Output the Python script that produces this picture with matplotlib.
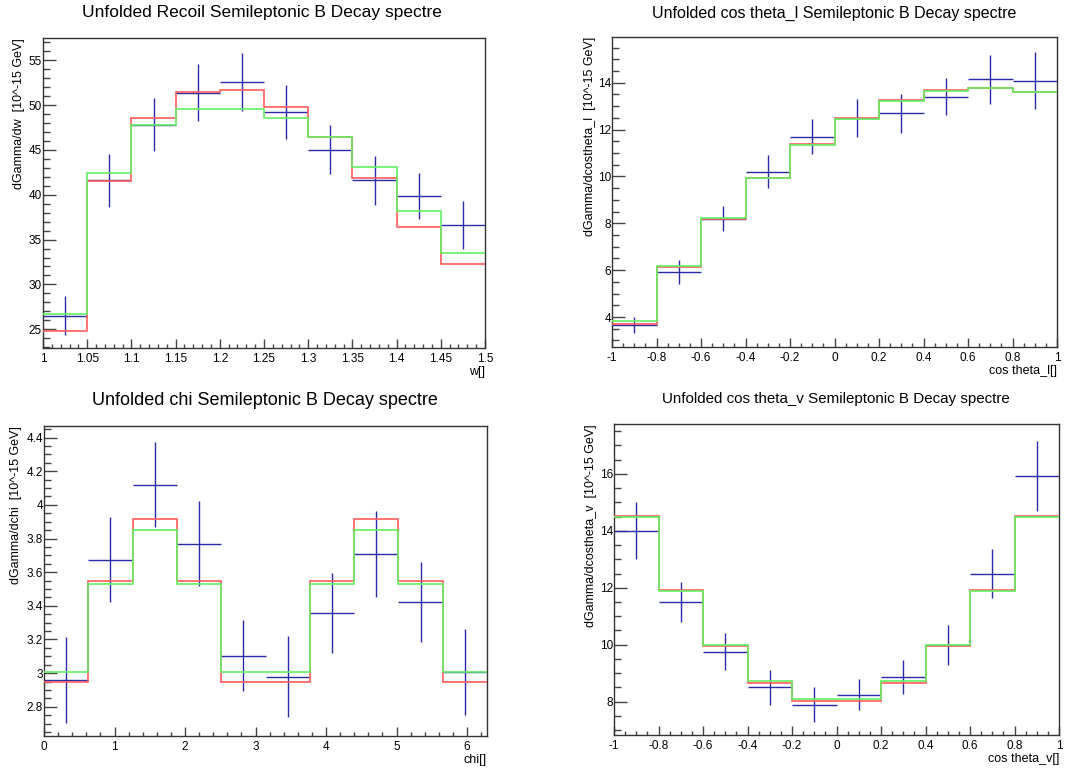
import numpy as np
import matplotlib
matplotlib.use('Agg')
import matplotlib.pyplot as plt
from matplotlib.ticker import MultipleLocator, FuncFormatter

plt.rcParams['font.family'] = ['Liberation Sans', 'DejaVu Sans']

W, H = 1078, 771

# --- recoil w ---
w_edges = np.linspace(1.0, 1.5, 11)
w_data = [26.5, 41.6, 47.8, 51.4, 52.6, 49.2, 45.05, 41.6, 39.85, 36.65]
w_err = [2.2, 2.95, 2.95, 3.2, 3.2, 3.0, 2.75, 2.75, 2.6, 2.7]
w_red = [24.8, 41.5, 48.6, 51.5, 51.65, 49.8, 46.45, 41.9, 36.45, 32.3]
w_green = [26.7, 42.4, 47.75, 49.55, 49.6, 48.55, 46.4, 43.05, 38.15, 33.45]

# --- cos theta_l ---
tl_edges = np.linspace(-1.0, 1.0, 11)
tl_data = [3.66, 5.92, 8.2, 10.2, 11.69, 12.5, 12.69, 13.4, 14.14, 14.09]
tl_err = [0.33, 0.5, 0.53, 0.7, 0.75, 0.8, 0.82, 0.78, 1.05, 1.23]
tl_red = [3.69, 6.12, 8.2, 9.93, 11.39, 12.49, 13.25, 13.69, 13.79, 13.59]
tl_green = [3.83, 6.18, 8.24, 9.94, 11.36, 12.43, 13.2, 13.64, 13.79, 13.59]

# --- chi ---
chi_edges = np.linspace(0.0, 2 * np.pi, 11)
chi_data = [2.96, 3.675, 4.12, 3.77, 3.103, 2.978, 3.358, 3.707, 3.424, 3.008]
chi_err = [0.255, 0.253, 0.253, 0.255, 0.21, 0.24, 0.24, 0.255, 0.238, 0.255]
chi_red = [2.945, 3.545, 3.919, 3.545, 2.945, 2.945, 3.545, 3.919, 3.545, 2.945]
chi_green = [3.006, 3.529, 3.851, 3.529, 3.006, 3.006, 3.529, 3.851, 3.529, 3.006]

# --- cos theta_v ---
tv_edges = np.linspace(-1.0, 1.0, 11)
tv_data = [14.0, 11.49, 9.76, 8.5, 7.9, 8.25, 8.87, 9.99, 12.5, 15.93]
tv_err = [1.0, 0.7, 0.65, 0.6, 0.6, 0.55, 0.6, 0.7, 0.85, 1.24]
tv_red = [14.52, 11.92, 9.97, 8.67, 8.02, 8.02, 8.67, 9.97, 11.92, 14.52]
tv_green = [14.47, 11.9, 9.99, 8.73, 8.09, 8.09, 8.73, 9.99, 11.9, 14.47]

panels = [
    dict(edges=w_edges, data=w_data, err=w_err, red=w_red, green=w_green,
         box=(43, 38, 485, 348), ylim=(22.9, 57.5), xmaj=0.05, xmin=0.01, ymaj=5, ymin=1,
         title="Unfolded Recoil Semileptonic B Decay spectre", tsize=12.5, tpos=(262, 13),
         xlabel="w[]", ylabel="dGamma/dw  [10^-15 GeV]", ylx=19),
    dict(edges=tl_edges, data=tl_data, err=tl_err, red=tl_red, green=tl_green,
         box=(612, 37, 1057, 347), ylim=(2.72, 15.95), xmaj=0.2, xmin=0.05, ymaj=2, ymin=0.5,
         title="Unfolded cos theta_l Semileptonic B Decay spectre", tsize=11.5, tpos=(834, 13),
         xlabel="cos theta_l[]", ylabel="dGamma/dcostheta_l  [10^-15 GeV]", ylx=590),
    dict(edges=chi_edges, data=chi_data, err=chi_err, red=chi_red, green=chi_green,
         box=(44, 426, 487, 736), ylim=(2.626, 4.469), xmaj=1, xmin=0.2, ymaj=0.2, ymin=0.05,
         title="Unfolded chi Semileptonic B Decay spectre", tsize=13, tpos=(265, 400),
         xlabel="chi[]", ylabel="dGamma/dchi  [10^-15 GeV]", ylx=16),
    dict(edges=tv_edges, data=tv_data, err=tv_err, red=tv_red, green=tv_green,
         box=(614, 424, 1059, 735), ylim=(6.83, 17.75), xmaj=0.2, xmin=0.05, ymaj=2, ymin=0.5,
         title="Unfolded cos theta_v Semileptonic B Decay spectre", tsize=10.9, tpos=(836, 399),
         xlabel="cos theta_v[]", ylabel="dGamma/dcostheta_v  [10^-15 GeV]", ylx=591),
]

fmt = FuncFormatter(lambda v, pos: '%g' % round(v, 6))

fig = plt.figure(figsize=(W / 100, H / 100), dpi=100)

for p in panels:
    x0, y0, x1, y1 = p['box']
    ax = fig.add_axes([x0 / W, 1 - y1 / H, (x1 - x0) / W, (y1 - y0) / H])
    edges = p['edges']
    centers = 0.5 * (edges[:-1] + edges[1:])
    half = 0.5 * (edges[1] - edges[0])

    ax.errorbar(centers, p['data'], xerr=half, yerr=p['err'], fmt='none',
                ecolor='#2a2aa8', elinewidth=1.0, capsize=0, zorder=2)
    ax.stairs(p['red'], edges, baseline=None, color='#ff5c5c', lw=1.2, zorder=3)
    ax.stairs(p['green'], edges, baseline=None, color='#62f062', lw=1.2, zorder=4)

    ax.set_xlim(edges[0], edges[-1])
    ax.set_ylim(*p['ylim'])
    ax.xaxis.set_major_locator(MultipleLocator(p['xmaj']))
    ax.xaxis.set_minor_locator(MultipleLocator(p['xmin']))
    ax.yaxis.set_major_locator(MultipleLocator(p['ymaj']))
    ax.yaxis.set_minor_locator(MultipleLocator(p['ymin']))
    ax.xaxis.set_major_formatter(fmt)
    ax.yaxis.set_major_formatter(fmt)

    ax.tick_params(axis='both', which='both', direction='in', colors='#444444',
                   labelcolor='black', labelsize=8.5, width=1.0)
    ax.tick_params(axis='y', which='major', length=9.5, pad=0.8)
    ax.tick_params(axis='y', which='minor', length=4.7)
    ax.tick_params(axis='x', which='major', length=6.5, pad=3.5)
    ax.tick_params(axis='x', which='minor', length=3.2)
    for s in ax.spines.values():
        s.set_color('#333333')
        s.set_linewidth(1.0)

    fig.text(p['tpos'][0] / W, 1 - p['tpos'][1] / H, p['title'], fontsize=p['tsize'],
             ha='center', va='center')
    fig.text(x1 / W, 1 - (y1 + 24) / H, p['xlabel'], fontsize=9, ha='right', va='center')
    fig.text(p['ylx'] / W, 1 - y0 / H, p['ylabel'], fontsize=9, rotation=90,
             ha='center', va='top')

fig.savefig('out.png', dpi=100)
